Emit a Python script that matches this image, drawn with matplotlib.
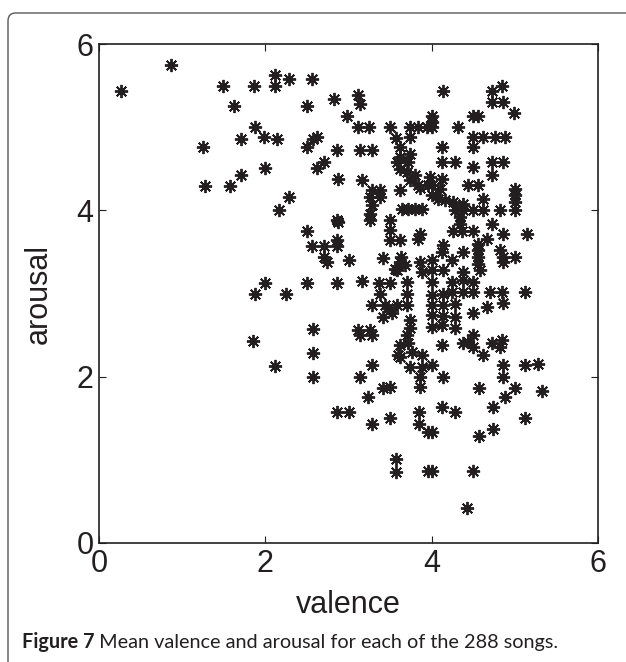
import matplotlib
matplotlib.use('Agg')
import matplotlib.pyplot as plt
from matplotlib.patches import FancyBboxPatch

# mean ratings, grouped roughly by valence band
val_low = [0.27, 0.87, 1.49, 1.86, 2.12, 2.12, 2.28, 2.56, 1.62, 2.50, 2.83, 1.87, 1.71, 1.98, 2.14, 1.25, 2.50,
           2.57, 2.62, 2.86, 2.70, 2.62, 2.87, 1.71, 2.00, 1.28, 1.57, 2.28, 2.16, 2.86, 2.87, 2.50, 2.56, 2.71,
           2.86, 2.86, 2.71, 2.74, 2.00, 2.50, 2.86, 1.87, 2.25, 1.85, 2.57, 2.57, 2.12, 2.57, 2.86]
aro_low = [5.43, 5.75, 5.50, 5.50, 5.63, 5.50, 5.58, 5.58, 5.25, 5.25, 5.34, 5.00, 4.86, 4.88, 4.86, 4.76, 4.76,
           4.86, 4.88, 4.72, 4.58, 4.51, 4.38, 4.43, 4.51, 4.29, 4.29, 4.16, 4.00, 3.88, 3.86, 3.75, 3.57, 3.57,
           3.57, 3.64, 3.44, 3.38, 3.13, 3.13, 3.13, 3.00, 3.00, 2.43, 2.57, 2.29, 2.13, 2.00, 1.57]

val_mid = [2.98, 3.12, 3.14, 3.12, 3.25, 3.14, 3.28, 3.16, 3.28, 3.38, 3.26, 3.38, 3.28, 3.26, 3.26, 3.00, 3.42,
           3.16, 3.37, 3.38, 3.28, 3.44, 3.42, 3.12, 3.26, 3.14, 3.28, 3.28, 3.14, 3.24, 3.42, 3.00, 3.28]
aro_mid = [5.14, 5.39, 5.28, 5.00, 5.00, 4.72, 4.72, 4.36, 4.25, 4.25, 4.16, 4.16, 4.07, 3.96, 3.88, 3.40, 3.43,
           3.15, 3.13, 3.00, 2.86, 2.86, 2.72, 2.56, 2.56, 2.50, 2.50, 2.14, 2.00, 1.76, 1.86, 1.57, 1.43]

val_35 = [3.50, 3.74, 3.84, 3.94, 3.57, 3.74, 3.62, 3.62, 3.58, 3.72, 3.74, 3.62, 3.70, 3.80,
          3.74, 3.84, 3.86, 3.96, 3.62, 3.64, 3.72, 3.80, 3.88, 3.50, 3.50, 3.50, 3.62, 3.86, 3.84, 3.62, 3.58,
          3.68, 3.86, 3.88, 3.63, 3.56, 3.50, 3.70, 3.70, 3.70, 3.58, 3.48, 3.52, 3.74, 3.74, 3.70, 3.72,
          3.62, 3.60, 3.76, 3.88, 3.88, 3.86, 3.86, 3.74, 3.62, 3.50, 3.50, 3.85, 3.85, 3.57, 3.57, 3.96,
          3.96]
aro_35 = [5.00, 5.00, 5.00, 5.00, 4.87, 4.88, 4.76, 4.64, 4.58, 4.58, 4.68, 4.50, 4.46, 4.42,
          4.36, 4.31, 4.27, 4.31, 4.25, 4.02, 4.02, 4.02, 4.02, 3.88, 3.76, 3.64, 3.64, 3.72, 3.66, 3.38, 3.28,
          3.34, 3.38, 3.26, 3.44, 3.30, 3.13, 3.14, 3.00, 2.86, 2.86, 2.82, 2.76, 2.68, 2.58, 2.50, 2.40,
          2.38, 2.26, 2.30, 2.26, 2.12, 2.00, 1.88, 2.12, 2.24, 1.88, 1.50, 1.58, 1.43, 1.01, 0.85, 1.33,
          0.87]

val_40 = [4.00, 4.00, 4.14, 4.00, 4.32, 4.12, 4.12, 4.28, 3.98, 4.12, 4.00, 4.10, 4.00, 4.08, 4.16, 4.26, 4.28,
          4.38, 4.38, 4.34, 4.34, 4.26, 4.37, 4.14, 4.12, 4.38, 4.24, 4.14, 4.38, 4.24, 4.38, 4.24, 4.38, 4.28,
          4.28, 4.28, 4.14, 4.14, 4.14, 4.13, 4.00, 4.00, 4.00, 4.00, 4.00, 4.12, 4.00, 4.14, 4.12, 4.28, 4.00,
          4.01, 4.38, 4.44, 4.00, 4.00]
aro_40 = [5.14, 5.06, 5.43, 5.00, 5.00, 4.76, 4.58, 4.58, 4.40, 4.38, 4.30, 4.26, 4.18, 4.14, 4.12, 4.10, 4.00,
          4.00, 4.08, 3.92, 3.84, 3.75, 3.75, 3.58, 3.50, 3.50, 3.40, 3.28, 3.26, 3.14, 3.16, 3.02, 3.02, 2.87,
          2.72, 2.58, 3.00, 2.86, 2.73, 2.62, 3.14, 2.98, 2.86, 2.74, 2.60, 2.38, 2.14, 2.00, 1.63, 1.57, 1.34,
          0.87, 2.40, 2.42, 3.40, 3.28]

val_high = [4.72, 4.84, 4.72, 4.86, 4.99, 4.50, 4.56, 4.50, 4.62, 4.76, 4.88, 4.50, 4.50, 4.72, 4.86, 4.72, 4.44,
            4.56, 5.00, 5.00, 5.00, 4.62, 4.50, 4.62, 4.82, 5.00, 4.50, 4.66, 4.72, 4.86, 5.15, 4.56, 4.56, 4.56,
            4.56, 4.58, 4.82, 4.86, 5.00, 4.86, 4.50, 4.50, 4.70, 4.84, 5.12, 4.66, 4.86, 4.50, 4.50, 4.50, 4.62,
            4.72, 4.84, 4.82, 4.86, 4.86, 5.12, 5.28, 4.57, 5.00, 4.88, 4.74, 5.33, 4.57, 4.74, 5.12, 4.50, 4.43]
aro_high = [5.43, 5.50, 5.30, 5.30, 5.17, 5.13, 5.13, 4.88, 4.88, 4.88, 4.88, 4.76, 4.52, 4.58, 4.58, 4.42, 4.30,
            4.30, 4.26, 4.18, 4.10, 4.14, 4.00, 4.00, 4.00, 4.00, 3.75, 3.66, 3.84, 3.72, 3.72, 3.60, 3.52, 3.44,
            3.36, 3.28, 3.52, 3.44, 3.44, 3.38, 3.14, 3.02, 3.02, 3.02, 3.02, 2.84, 2.88, 2.76, 2.50, 2.36, 2.26,
            2.40, 2.44, 2.36, 2.14, 2.00, 2.14, 2.15, 1.86, 1.86, 1.75, 1.63, 1.83, 1.29, 1.37, 1.50, 0.87, 0.42]

valence = val_low + val_mid + val_35 + val_40 + val_high
arousal = aro_low + aro_mid + aro_35 + aro_40 + aro_high
ticks = [0, 2, 4, 6]
caption_bold = 'Figure 7'
caption_rest = ' Mean valence and arousal for each of the 288 songs.'

W, H = 626, 662
fig = plt.figure(figsize=(W / 100, H / 100), dpi=100, facecolor='white')

# journal frame (rounded top-left corner, runs off the right and bottom)
frame = FancyBboxPatch((8 / W, -0.1), 1.0, (H - 13) / H + 0.1,
                       boxstyle='round,pad=0,rounding_size=0.012',
                       transform=fig.transFigure, fill=False,
                       edgecolor='#58595b', linewidth=1.0, clip_on=False)
fig.patches.append(frame)

ax = fig.add_axes([99 / W, (H - 543) / H, 499 / W, 499 / H])
ax.plot(valence, arousal, linestyle='none', marker=(8, 2, 0), markersize=9.5,
        markeredgewidth=1.35, color='#231f20')

ax.set_xlim(0, 6)
ax.set_ylim(0, 6)
ax.set_xticks(ticks)
ax.set_yticks(ticks)
tick_font = {'family': 'Liberation Sans', 'size': 22}
ax.set_xticklabels([str(t) for t in ticks], fontdict=tick_font, color='#231f20')
ax.set_yticklabels([str(t) for t in ticks], fontdict=tick_font, color='#231f20')
ax.tick_params(direction='in', length=5, width=0.8, top=True, right=True, pad=4, colors='#231f20')
for s in ax.spines.values():
    s.set_linewidth(1.2)
    s.set_color('#231f20')
ax.set_xlabel('valence', fontdict=tick_font, color='#231f20', labelpad=8)
ax.set_ylabel('arousal', fontdict=tick_font, color='#231f20', labelpad=16)

# caption: bold label then the regular text right after it
cap_font = 'Lato'
t1 = fig.text(22 / W, 1 - 648 / H, caption_bold, fontsize=14.3, fontweight='bold',
              family=cap_font, color='#231f20', va='baseline')
fig.canvas.draw()
bb = t1.get_window_extent()
fig.text(bb.x1 / W, 1 - 648 / H, caption_rest, fontsize=14.3, family=cap_font,
         color='#231f20', va='baseline')

fig.savefig('out.png', dpi=100, facecolor='white')
